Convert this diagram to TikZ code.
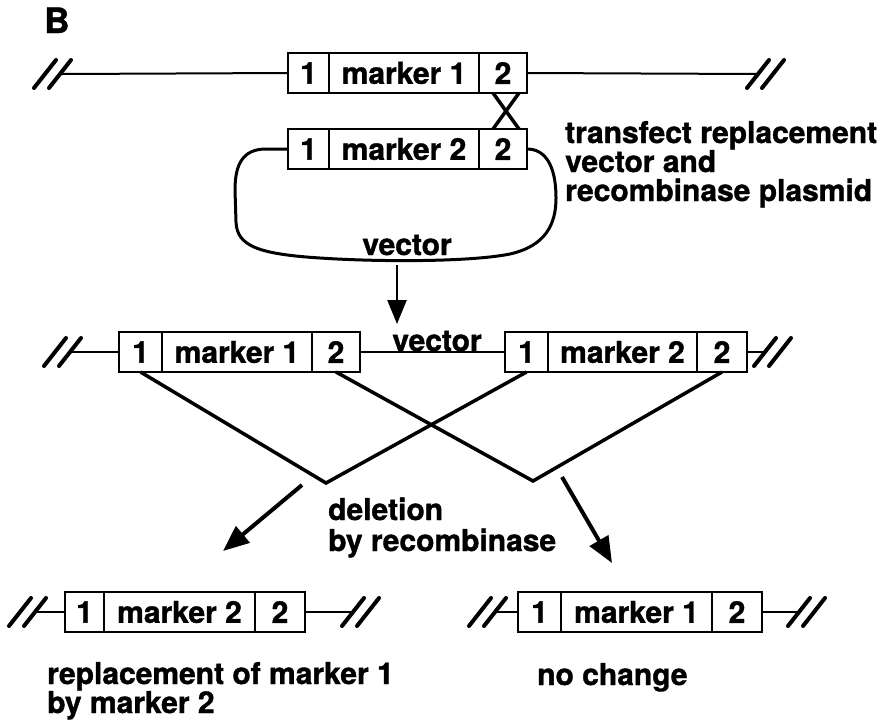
\documentclass[tikz,border=0pt]{standalone}
\usepackage{fontspec}
\setmainfont{TeX Gyre Heros}[BoldFeatures={FakeBold=1.2}]
\usetikzlibrary{arrows.meta,calc}

\tikzset{
  x=1pt, y=-1pt,
  seg/.style={draw, line width=2.4pt, minimum height=40pt, inner sep=0pt,
    outer sep=0pt, anchor=west, font=\bfseries\fontsize{30}{32}\selectfont},
  dna/.style={line width=2pt},
  cut/.style={line width=4pt, line cap=round},
  swap/.style={line width=3.5pt, line join=miter},
  plasmid/.style={line width=3pt},
  lbl/.style={font=\bfseries\fontsize{30}{32}\selectfont, inner sep=0pt, anchor=base west},
  bigarrow/.style={line width=4pt, -{Triangle[length=26pt,width=21pt]}},
  smallarrow/.style={line width=2.5pt, -{Triangle[length=24pt,width=19pt]}},
  brkL/.pic={
    \draw[cut] (-28,14) -- (-6,-14);
    \draw[cut] (-13,14) -- (9,-14);
  },
  brkR/.pic={
    \draw[cut] (-10,14) -- (12,-14);
    \draw[cut] (5,14) -- (27,-14);
  },
}

% a cassette: site 1, a marker, site 2
\newcommand\cassette[7]{%
  \node[seg, minimum width=#4pt] (#1-a) at (#2,#3) {1};
  \node[seg, minimum width=#5pt] (#1-m) at (#1-a.east) {#7};
  \node[seg, minimum width=#6pt] (#1-b) at (#1-m.east) {2};
}

\begin{document}
\begin{tikzpicture}
\useasboundingbox (0,0) rectangle (880,721);

\node[font=\bfseries\fontsize{35}{36}\selectfont, inner sep=0pt, anchor=base west] (title) at (44,33) {B};

% chromosome with marker 1
\cassette{top}{288}{73}{41}{150}{48}{marker 1}
\coordinate (tL) at (62,74);
\coordinate (tR) at (757,74);
\draw[dna] (tL) -- (top-a.west);
\draw[dna] (top-b.east) -- (tR);
\pic at (tL) {brkL};
\pic at (tR) {brkR};

% replacement vector
\cassette{vec}{288}{149}{41}{150}{48}{marker 2}
\draw[swap] ($(top-b.south west)+(14,0)$) -- ($(vec-b.north west)+(40,0)$);
\draw[swap] ($(top-b.south west)+(40,0)$) -- ($(vec-b.north west)+(14,0)$);
\draw[plasmid] (vec-a.west) -- (266,149)
  .. controls (243,149) and (235,164) .. (235,190)
  -- (236,222)
  .. controls (237,246) and (258,254) .. (320,258)
  .. controls (380,262) and (470,262) .. (510,254)
  .. controls (545,246) and (556,225) .. (556,198)
  .. controls (556,165) and (545,149) .. (vec-b.east);
\node[lbl, anchor=base] (vlab) at (407,255) {vector};

\node[lbl] (tr1) at (565,143) {transfect replacement};
\node[lbl] (tr2) at (565,172) {vector and};
\node[lbl] (tr3) at (565,201) {recombinase plasmid};

\coordinate (d0) at (397,265);
\coordinate (d1) at (397,324);
\draw[smallarrow] (d0) -- (d1);

% integrated vector: two cassettes in tandem
\cassette{L}{119}{352}{43}{150}{48}{marker 1}
\cassette{R}{505}{352}{43}{149}{50}{marker 2}
\coordinate (mL) at (72,352);
\coordinate (mR) at (764,352);
\draw[dna] (mL) -- (L-a.west);
\draw[dna] (L-b.east) -- (R-a.west);
\draw[dna] (R-b.east) -- (mR);
\pic at (mL) {brkL};
\pic at (mR) {brkR};
\node[lbl, anchor=base] (ilab) at (437,351) {vector};

% recombination between the sites
\coordinate (v1) at (326,483);
\coordinate (v2) at (533,481);
\draw[swap] (L-a.south) -- (v1) -- (R-a.south);
\draw[swap] (L-b.south) -- (v2) -- (R-b.south);

\coordinate (p1) at (302,485);
\coordinate (q1) at (223,551);
\coordinate (p2) at (562,477);
\coordinate (q2) at (612,563);
\draw[bigarrow] (p1) -- (q1);
\draw[bigarrow] (p2) -- (q2);

\node[lbl] (del1) at (328,520) {deletion};
\node[lbl] (del2) at (328,551) {by recombinase};

% products
\cassette{P}{65}{612}{39}{151}{50}{marker 2}
\coordinate (pL) at (37,612);
\coordinate (pR) at (352,612);
\draw[dna] (pL) -- (P-a.west);
\draw[dna] (P-b.east) -- (pR);
\pic at (pL) {brkL};
\pic at (pR) {brkR};

\cassette{Q}{518}{612}{43}{151}{50}{marker 1}
\coordinate (qL) at (497,612);
\coordinate (qR) at (798,612);
\draw[dna] (qL) -- (Q-a.west);
\draw[dna] (Q-b.east) -- (qR);
\pic at (qL) {brkL};
\pic at (qR) {brkR};

\node[lbl] (res1) at (47,684) {replacement of marker 1};
\node[lbl] (res2) at (47,713) {by marker 2};
\node[lbl] (res3) at (537,685) {no change};
\end{tikzpicture}
\end{document}
